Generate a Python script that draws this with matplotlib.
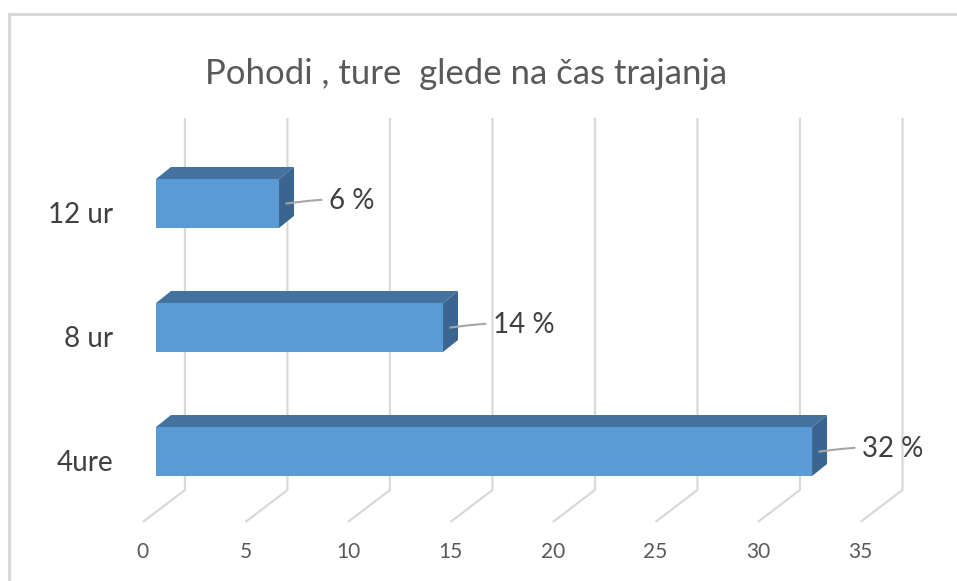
import matplotlib.pyplot as plt
from matplotlib.patches import Polygon
from matplotlib.lines import Line2D

plt.rcParams['font.family'] = ['Lato', 'DejaVu Sans']

title = 'Pohodi , ture  glede na čas trajanja'
categories = ['4ure', '8 ur', '12 ur']
values = [32, 14, 6]
labels = ['32 %', '14 %', '6 %']
ticks = [0, 5, 10, 15, 20, 25, 30, 35]

# pseudo-3D geometry, in data units (x: value, y: category index)
bar_h = 0.395
bar_dx, bar_dy = 0.73, 0.097        # depth of the bars
wall_dx = 1.41                       # back wall offset from bar front
floor_dx, floor_dy = -2.05, -0.258   # back wall -> front floor edge
wall_bottom = -0.31
wall_top = 2.69

front_col = '#5b9bd5'
top_col = '#44729f'
side_col = '#3a6590'
grid_col = '#d9d9d9'

fig = plt.figure(figsize=(9.57, 5.81), dpi=100)
ax = fig.add_axes([0, 0, 1, 1])
ax.set_xlim(-7.61, 39.07)
ax.set_ylim(-1.044, 3.641)
ax.axis('off')

# outer frame (left and top edges visible)
fig.add_artist(Line2D([0.0089, 0.0089], [0, 0.976], color='#d9d9d9', lw=2.2, transform=fig.transFigure))
fig.add_artist(Line2D([0.0089, 1], [0.976, 0.976], color='#d9d9d9', lw=2.2, transform=fig.transFigure))

# gridlines on back wall and floor
for t in ticks:
    xb = t + wall_dx
    ax.plot([xb, xb, xb + floor_dx], [wall_top, wall_bottom, wall_bottom + floor_dy],
            color=grid_col, lw=1.6, zorder=1, solid_capstyle='butt')
    ax.text(t + wall_dx + floor_dx, -0.81, str(t), ha='center', va='center',
            fontsize=15, color='#595959')

for i, (cat, v, lab) in enumerate(zip(categories, values, labels)):
    y0 = i - bar_h / 2
    y1 = i + bar_h / 2
    front = Polygon([(0, y0), (v, y0), (v, y1), (0, y1)], closed=True,
                    facecolor=front_col, edgecolor='none', zorder=3)
    top = Polygon([(0, y1), (v, y1), (v + bar_dx, y1 + bar_dy), (bar_dx, y1 + bar_dy)],
                  closed=True, facecolor=top_col, edgecolor='none', zorder=3)
    side = Polygon([(v, y0), (v + bar_dx, y0 + bar_dy), (v + bar_dx, y1 + bar_dy), (v, y1)],
                   closed=True, facecolor=side_col, edgecolor='none', zorder=3)
    for p in (front, top, side):
        ax.add_patch(p)
    # leader line and data label
    lx = v + bar_dx / 2
    ax.plot([lx, lx + 1.0, lx + 1.7], [i, i + 0.02, i + 0.03], color='#a6a6a6', lw=1.5, zorder=4)
    ax.text(lx + 2.05, i + 0.02, lab, ha='left', va='center', fontsize=20, color='#404040')
    ax.text(-2.1, i - 0.09, cat, ha='right', va='center', fontsize=20, color='#404040')

ax.text(15.1, 3.045, title, ha='center', va='center', fontsize=25, color='#595959')

fig.savefig('out.png', dpi=100)
